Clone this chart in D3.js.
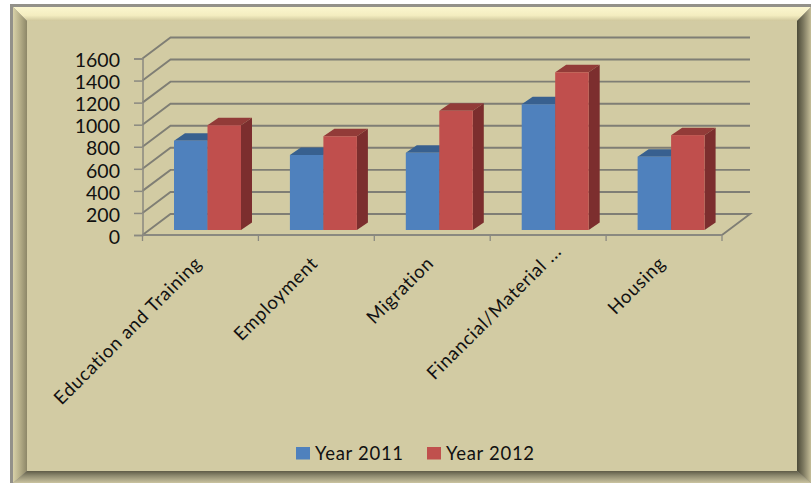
<!DOCTYPE html>
<html><head><meta charset="utf-8">
<script src="https://cdn.jsdelivr.net/npm/d3@7"></script>
<style>html,body{margin:0;padding:0;background:#fff}svg{display:block}text{font-family:Lato,"Open Sans",sans-serif;fill:#111}</style>
</head><body><svg id="c" width="811" height="483"></svg>
<script>
const categories=["Education and Training","Employment","Migration","Financial/Material ...","Housing"];
const year2011=[810,680,700,1140,665];
const year2012=[950,850,1080,1430,860];
const seriesNames=["Year 2011","Year 2012"];
const yTicks=[0,200,400,600,800,1000,1200,1400,1600];
const front=["#4f81bd","#c0504d"],topC=["#38618f","#923a38"],side=["#2f5078","#7b2f2d"];
const depth={dx:28,dy:-21},bar={dx:11,dy:-7.5,lift:5};
const svg=d3.select("#c");
const defs=svg.append("defs");
function grad(id,x1,y1,x2,y2,stops){const g=defs.append("linearGradient").attr("id",id).attr("x1",x1).attr("y1",y1).attr("x2",x2).attr("y2",y2);
 stops.forEach(s=>g.append("stop").attr("offset",s[0]).attr("stop-color",s[1]));}
grad("gTop",0,0,0,1,[[0,"#fbf6cf"],[.6,"#f4edc0"],[1,"#cfc79d"]]);
grad("gLeft",0,0,1,0,[[0,"#d8d1a8"],[.5,"#b5ae88"],[1,"#8d8768"]]);
grad("gRight",0,0,1,0,[[0,"#4c4a38"],[.45,"#7d7960"],[1,"#c4bd98"]]);
grad("gBottom",0,0,0,1,[[0,"#5f5c48"],[.4,"#8f8b70"],[1,"#cac3a0"]]);
defs.append("filter").attr("id","soft").append("feGaussianBlur").attr("stdDeviation",.55);
// frame
const poly=(p,f)=>svg.append("polygon").attr("points",p.join(" ")).attr("fill",f);
svg.append("rect").attr("x",10).attr("y",4).attr("width",801).attr("height",479).attr("fill","#93918a");
const o={l:13,t:7,r:811,b:483},i={l:27,t:21,r:797,b:471};
svg.append("rect").attr("x",i.l).attr("y",i.t).attr("width",i.r-i.l).attr("height",i.b-i.t).attr("fill","#d2cba3");
poly([[o.l,o.t],[o.r,o.t],[i.r,i.t],[i.l,i.t]],"url(#gTop)");
poly([[o.l,o.t],[i.l,i.t],[i.l,i.b],[o.l,o.b]],"url(#gLeft)");
poly([[o.r,o.t],[i.r,i.t],[i.r,i.b],[o.r,o.b]],"url(#gRight)");
poly([[o.l,o.b],[i.l,i.b],[i.r,i.b],[o.r,o.b]],"url(#gBottom)");

const x=d3.scaleBand().domain(categories).range([142.5,722]).paddingInner(0);
const y=d3.scaleLinear().domain([0,1600]).range([235,58.5]);
const inner=d3.scaleBand().domain(seriesNames).range([31.5,98.5]);
const grid=svg.append("g").attr("filter","url(#soft)").attr("stroke","#7f7e74").attr("stroke-width",1.9).attr("fill","none");
// gridlines on back wall and left wall
grid.selectAll("path.g").data(yTicks).join("path").attr("class","g")
 .attr("d",v=>v===0?d3.line()([[x.range()[0],y(v)],[x.range()[0]+depth.dx,y(v)+depth.dy],[x.range()[1]+depth.dx,y(v)+depth.dy],[x.range()[1],y(v)]])
   :d3.line()([[x.range()[0],y(v)],[x.range()[0]+depth.dx,y(v)+depth.dy],[x.range()[1]+depth.dx,y(v)+depth.dy]]));
// bars
const bars=svg.append("g").attr("filter","url(#soft)");
[year2011,year2012].forEach((vals,s)=>{
 vals.forEach((v,k)=>{
  const x0=x(categories[k])+inner(seriesNames[s]),w=inner.bandwidth(),yb=y(0)-bar.lift,yt=y(v)-bar.lift;
  bars.append("path").attr("fill",topC[s]).attr("d",d3.line()([[x0,yt],[x0+bar.dx,yt+bar.dy],[x0+w+bar.dx,yt+bar.dy],[x0+w,yt]])+"Z");
  bars.append("path").attr("fill",side[s]).attr("d",d3.line()([[x0+w,yt],[x0+w+bar.dx,yt+bar.dy],[x0+w+bar.dx,yb+bar.dy],[x0+w,yb]])+"Z");
  bars.append("rect").attr("x",x0).attr("y",yt).attr("width",w).attr("height",yb-yt).attr("fill",front[s]);
 });
});
// axes
const yAxis=d3.axisLeft(y).tickValues(yTicks).tickSize(8.5).tickPadding(14).tickFormat(d3.format("d"));
const gy=svg.append("g").attr("transform","translate(142.5,0)").call(yAxis);
gy.selectAll("path,line").attr("stroke","#8a8980").attr("stroke-width",1.5);
gy.selectAll("text").style("font-size","19.5px").attr("fill","#111").attr("dy","0.42em");
const xTickVals=categories.map(c=>x(c)).concat(x.range()[1]);
const gx=svg.append("g").attr("transform","translate(0,235)");
gx.append("path").attr("d",d3.line()([[x.range()[0],0],[x.range()[1],0]])).attr("stroke","#8a8980").attr("stroke-width",1.8);
gx.selectAll("line").data(xTickVals).join("line").attr("x1",d=>d).attr("x2",d=>d).attr("y1",0).attr("y2",6).attr("stroke","#8a8980").attr("stroke-width",1.3);
gx.selectAll("text").data(categories).join("text")
 .attr("transform",c=>{const n=c.endsWith("...")?12:0;return `translate(${x(c)+x.bandwidth()/2+2.5+n},${29.5-n}) rotate(-45)`;})
 .attr("text-anchor","end").style("font-size","18.5px").style("letter-spacing","0.75px").text(c=>c);
// legend
const lx=d3.scaleOrdinal().domain(seriesNames).range([296,427]);
const lg=svg.append("g").selectAll("g").data(seriesNames).join("g").attr("transform",d=>`translate(${lx(d)},447)`);
lg.append("rect").attr("width",14).attr("height",12.5).attr("fill",(d,k)=>front[k]);
lg.append("text").attr("x",19).attr("y",12.5).style("font-size","18.5px").style("letter-spacing","0.7px").text(d=>d);
</script></body></html>
